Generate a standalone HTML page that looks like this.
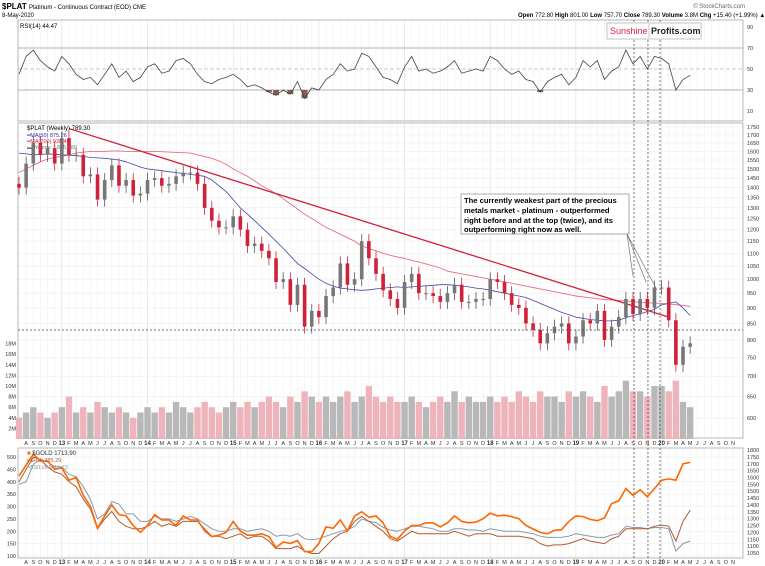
<!DOCTYPE html>
<html><head><meta charset="utf-8"><style>
body{margin:0;background:#fff;font-family:"Liberation Sans",sans-serif}
svg{display:block}
text{font-family:"Liberation Sans",sans-serif}
</style></head><body>
<svg id="c" width="765" height="566" viewBox="0 0 765 566">
<text x="2" y="9" font-size="8" font-weight="bold">$PLAT <tspan font-weight="normal" font-size="6">Platinum - Continuous Contract (EOD) CME</tspan></text>
<text x="2" y="17" font-size="6">8-May-2020</text>
<text x="745" y="8" font-size="6" fill="#666" text-anchor="end">© StockCharts.com</text>
<text x="518" y="17" font-size="6"><tspan font-weight="bold">Open</tspan> 772.80 <tspan font-weight="bold">High</tspan> 801.00 <tspan font-weight="bold">Low</tspan> 757.70 <tspan font-weight="bold">Close</tspan> 789.30 <tspan font-weight="bold">Volume</tspan> 3.8M <tspan font-weight="bold">Chg</tspan> +15.40 (+1.99%) ▲</text>
<g id="grid"></g>
<rect x="18" y="20" width="725" height="101" fill="none" stroke="#999" stroke-width="0.7"/>
<rect x="18" y="123" width="725" height="315" fill="none" stroke="#999" stroke-width="0.7"/>
<rect x="18" y="448" width="725" height="110" fill="none" stroke="#999" stroke-width="0.7"/>
<text x="20" y="28" font-size="6">RSI(14) 44.47</text>
<g id="rsi"></g>
<g id="main"></g>
<g id="low"></g>
<g id="axes"></g>
<text x="27" y="130" font-size="6">$PLAT (Weekly) 789.30</text>
<text x="27" y="137" font-size="5.5" fill="#3333aa">━MA(50) 875.26</text>
<text x="27" y="143" font-size="5.5" fill="#dd2244">━MA(200) 930.49</text>
<text x="27" y="149" font-size="5.5" fill="#777">▬Volume 3,835,180</text>
<text x="27" y="455" font-size="6" fill="#333"><tspan fill="#ff6600">■</tspan> $GOLD 1713.90</text>
<text x="27" y="462" font-size="5.5" fill="#b05a30">━$HUI 285.29</text>
<text x="27" y="469" font-size="5.5" fill="#8899aa">━$SILVER 15.73</text>
<g>
<line x1="627" y1="234" x2="633" y2="276" stroke="#777" stroke-width="0.7"/>
<line x1="627" y1="234" x2="646" y2="282" stroke="#777" stroke-width="0.7"/>
<line x1="627" y1="234" x2="657" y2="290" stroke="#777" stroke-width="0.7"/>
<rect x="461" y="194" width="168" height="40" fill="#fff" stroke="#888" stroke-width="0.7"/>
<text x="464" y="203" font-size="7.6" font-weight="bold">The currently weakest part of the precious</text>
<text x="464" y="213" font-size="7.6" font-weight="bold">metals market - platinum - outperformed</text>
<text x="464" y="223" font-size="7.6" font-weight="bold">right before and at the top (twice), and its</text>
<text x="464" y="232" font-size="7.6" font-weight="bold">outperforming right now as well.</text>
</g>
<g>
<rect x="607" y="23" width="94" height="16" fill="#fff" stroke="#aaa" stroke-width="0.7"/>
<line x1="649" y1="24" x2="649" y2="38" stroke="#aaa" stroke-width="0.7"/>
<text x="610" y="34" font-size="9" fill="#dd2244">Sunshine</text>
<text x="651" y="34" font-size="9" font-weight="bold" fill="#222">Profits.com</text>
</g>
</svg>
<script>
const priceClose=[1400,1530,1650,1580,1620,1530,
1680,1580,1580,1460,1470,1340,1440,1520,1410,1440,1360,1370,
1440,1450,1410,1420,1460,1480,1480,1420,1300,1240,1210,1210,
1260,1200,1130,1140,1110,1080,990,1000,910,980,840,890,
870,940,970,1060,980,1000,1150,1080,1020,960,930,900,
990,1020,950,950,940,920,950,980,920,920,930,930,
1000,990,950,910,900,850,830,790,820,840,850,790,
810,860,850,890,800,840,870,930,880,930,900,970,
970,860,730,780,790];
const priceOpen=[1420].concat(priceClose.slice(0,-1));
const volumeM=[4,5,6,5,4,5, 6,8,5,6,5,7,6,5,6,5,4,5, 6,5,6,5,7,6,5,6,7,6,5,6,
7,6,7,6,7,8,7,6,8,7,9,8, 7,8,7,8,9,7,8,10,8,7,8,7, 7,8,7,6,7,8,7,9,7,8,7,7,
8,7,8,7,9,8,7,9,8,8,7,9, 8,9,8,7,10,8,9,11,9,9,8,10, 10,9,11,7,6];
const ma50=[1590,1585,1580,1582,1585,1583,1580,1578,1575,1570,1565,1562,1560,1555,1550,1540,1525,1510,
1500,1495,1490,1485,1480,1475,1470,1465,1460,1440,1410,1380,1340,1300,1270,1240,1210,1180,1150,1120,1090,1060,1040,1020,
1000,985,975,968,965,962,960,962,965,968,970,972,970,972,974,976,978,980,980,978,975,972,968,965,
960,955,950,945,940,935,925,915,905,895,885,878,870,866,862,860,858,858,860,868,875,880,888,895,
910,915,920,900,875];
const ma200=[1480,1500,1520,1540,1555,1565,1570,1580,1590,1595,1600,1600,1600,1602,1602,1600,1600,1600,
1600,1600,1598,1596,1594,1592,1590,1580,1570,1560,1545,1525,1500,1480,1460,1435,1410,1390,1370,1345,1320,1295,1270,1250,
1230,1210,1195,1180,1165,1150,1130,1120,1110,1100,1092,1085,1080,1072,1065,1058,1050,1042,1030,1025,1020,1015,1010,1005,
1000,995,990,985,980,975,970,965,960,955,950,945,940,937,934,931,928,926,925,923,921,919,917,916,
915,913,911,908,905];
const rsi=[45,62,68,58,52,48, 62,55,45,40,42,35,45,55,42,48,38,42, 52,55,46,48,58,60,55,45,38,36,40,42,
45,40,33,35,32,28,25,30,26,38,22,32, 30,40,45,55,48,50,65,62,52,42,40,36, 52,62,48,50,46,48,52,58,46,48,50,48,
62,58,50,45,48,40,38,28,38,42,45,35, 42,58,52,58,40,48,52,68,55,62,50,62, 60,55,30,40,44];
const gold=[1610,1690,1770,1720,1720,1660,
1670,1580,1600,1470,1390,1230,1320,1400,1330,1320,1250,1200,
1250,1330,1290,1290,1250,1320,1290,1290,1210,1170,1180,1200,
1280,1210,1180,1180,1190,1170,1090,1130,1120,1140,1060,1060,
1120,1240,1230,1290,1210,1320,1350,1310,1320,1270,1170,1150,
1210,1250,1250,1270,1270,1240,1270,1320,1280,1270,1275,1300,
1340,1320,1325,1315,1300,1250,1225,1200,1190,1215,1220,1280,
1320,1315,1295,1285,1305,1410,1430,1520,1470,1510,1460,1520,
1580,1590,1580,1700,1710];
const hui=[400,450,500,490,460,440, 430,400,380,330,290,210,250,280,240,220,210,210,
220,240,220,230,220,240,240,240,210,180,180,170, 180,190,170,180,180,160,130,130,130,140,120,110,
110,140,170,190,200,240,260,240,220,200,170,160, 180,200,190,190,190,190,190,200,190,180,190,190,
190,180,180,180,180,175,170,150,140,145,145,150, 160,170,160,155,150,170,180,210,210,210,210,220,
225,220,160,240,285];
const silver=[390,400,470,490,480,460, 460,430,420,380,330,250,270,320,310,270,270,240,
240,260,250,250,240,250,260,250,230,210,200,200, 210,210,200,205,210,200,180,185,180,190,170,165,
170,180,190,200,205,220,250,240,235,215,205,200, 210,220,220,215,210,200,200,210,210,205,205,200,
210,205,200,200,200,195,190,180,175,175,175,180, 190,185,180,175,175,185,190,220,215,215,210,215,
215,210,120,150,160];
const priceTicks=[1750,1700,1650,1600,1550,1500,1450,1400,1350,1300,1250,1200,1150,1100,1050,1000,950,900,850,800,750,700,650,600];
const volTicks=[2,4,6,8,10,12,14,16,18];
const rsiTicks=[90,70,50,30,10];
const leftTicks=[500,450,400,350,300,250,200,150,100];
const goldTicks=[1800,1750,1700,1650,1600,1550,1500,1450,1400,1350,1300,1250,1200,1150,1100,1050];
const monthLetters=['J','F','M','A','M','J','J','A','S','O','N','D'];
const trendStart=[7,1740], trendEnd=[91,870];

const NS='http://www.w3.org/2000/svg';
function el(parent,tag,attrs,txt){const e=document.createElementNS(NS,tag);for(const k in attrs)e.setAttribute(k,attrs[k]);if(txt!==undefined)e.textContent=txt;parent.appendChild(e);return e;}
const xm=i=>19+i*7.14;
const yP=p=>127+272*Math.log(1750/p);
const yV=v=>439-v*5.3;
const yRsi=v=>48+(70-v)*1.05;
const yL=v=>556-(v-100)*0.2475;
const yR=g=>553-(g-1050)*0.1373;
const grid=document.getElementById('grid'),axes=document.getElementById('axes');
const rsiG=document.getElementById('rsi'),mainG=document.getElementById('main'),lowG=document.getElementById('low');

for(let i=1;i<=100;i++){
  const x=xm(i),m=(i+6)%12,yr=Math.floor((i+6)/12)+12;
  if(x>742)break;
  for(const [a,b] of [[20,121],[123,438],[448,558]]){const l=el(grid,'line',{x1:x,x2:x,y1:a,y2:b,stroke:m===0?'#ddd':'#f0f0f0','stroke-width':0.6});
  
  }
  const lab=m===0?String(yr):monthLetters[m];
  for(const yy of [445,564]){const t=el(axes,'text',{x:x,y:yy,'font-size':m===0?6:5.5,'font-weight':m===0?'bold':'normal','text-anchor':'middle',fill:'#333'},lab);
  
  }
}
priceTicks.forEach(p=>{const y=yP(p);
  const l=el(grid,'line',{x1:18,x2:743,y1:y,y2:y,stroke:'#eee','stroke-width':0.6});
  
  
  const t=el(axes,'text',{x:747,y:y+2,'font-size':5.5,fill:'#333'},String(p));
  
  });
volTicks.forEach(v=>{const t=el(axes,'text',{x:16,y:yV(v)+2,'font-size':5.5,'text-anchor':'end',fill:'#333'},v+'M');
  
  });
rsiTicks.forEach(v=>{const y=yRsi(v);
  if(v===70||v===30){const l=el(grid,'line',{x1:18,x2:743,y1:y,y2:y,stroke:'#999','stroke-width':0.8});
    
    }
  if(v===50){const l=el(grid,'line',{x1:18,x2:743,y1:y,y2:y,stroke:'#999','stroke-width':0.6,'stroke-dasharray':'4,2'});
    
    }
  const t=el(axes,'text',{x:747,y:y+2,'font-size':5.5,fill:'#333'},String(v));
  
  });
leftTicks.forEach(v=>{const y=yL(v);
  const l=el(grid,'line',{x1:18,x2:743,y1:y,y2:y,stroke:'#eee','stroke-width':0.6});
  
  
  const t=el(axes,'text',{x:16,y:y+2,'font-size':5.5,'text-anchor':'end',fill:'#333'},String(v));
  
  });
goldTicks.forEach(g=>{const t=el(axes,'text',{x:747,y:yR(g)+2,'font-size':5.5,fill:'#333'},String(g));
  
  });

let rsiPath='';
rsi.forEach((v,i)=>{rsiPath+=(i?'L':'M')+xm(i).toFixed(1)+','+yRsi(v).toFixed(1);});
rsi.forEach((v,i)=>{if(v<30){const p=el(rsiG,'rect',{x:xm(i)-3,y:yRsi(30),width:6,height:yRsi(v)-yRsi(30),fill:'#8a5a55'});
  
  }});
const rl=el(rsiG,'path',{d:rsiPath,fill:'none',stroke:'#444','stroke-width':0.8});



volumeM.forEach((v,i)=>{const up=priceClose[i]>=priceOpen[i];
  const r=el(mainG,'rect',{x:xm(i)-3.2,y:yV(v),width:6.4,height:439-yV(v),fill:up?'#b8b8b8':'#efb3bb'});
  
  });
function line(arr,fy,color,w,g){let d='';arr.forEach((v,i)=>{d+=(i?'L':'M')+xm(i).toFixed(1)+','+fy(v).toFixed(1);});
  return el(g,'path',{d:d,fill:'none',stroke:color,'stroke-width':w});}
const m2=line(ma200,yP,'#e8707f',0.9,mainG);


const m1=line(ma50,yP,'#4444aa',0.8,mainG);


const tl=el(mainG,'line',{x1:xm(trendStart[0]),y1:yP(trendStart[1]),x2:xm(trendEnd[0]),y2:yP(trendEnd[1]),stroke:'#d0203a','stroke-width':1.3});


priceClose.forEach((c,i)=>{const o=priceOpen[i],up=c>=o;
  const y1=yP(Math.max(o,c)),y2=yP(Math.min(o,c));
  const w=el(mainG,'line',{x1:xm(i),x2:xm(i),y1:y1-7,y2:y2+7,stroke:up?'#555':'#d0203a','stroke-width':0.8});
  
  
  const r=el(mainG,'rect',{x:xm(i)-1.8,y:y1,width:3.6,height:Math.max(1,y2-y1),fill:up?'#777':'#d0203a'});
  
  });
const hz=el(mainG,'line',{x1:18,x2:743,y1:330,y2:330,stroke:'#444','stroke-width':0.7,'stroke-dasharray':'2,2'});


[634,648,660].forEach(x=>{const v=el(mainG,'line',{x1:x,x2:x,y1:20,y2:558,stroke:'#444','stroke-width':0.7,'stroke-dasharray':'2,2'});
  
  });

const sl=line(silver,yL,'#8899aa',1,lowG);


const hl=line(hui,yL,'#b05a30',1,lowG);


const gl=line(gold,yR,'#ff6600',1.6,lowG);


</script>
</body></html>
